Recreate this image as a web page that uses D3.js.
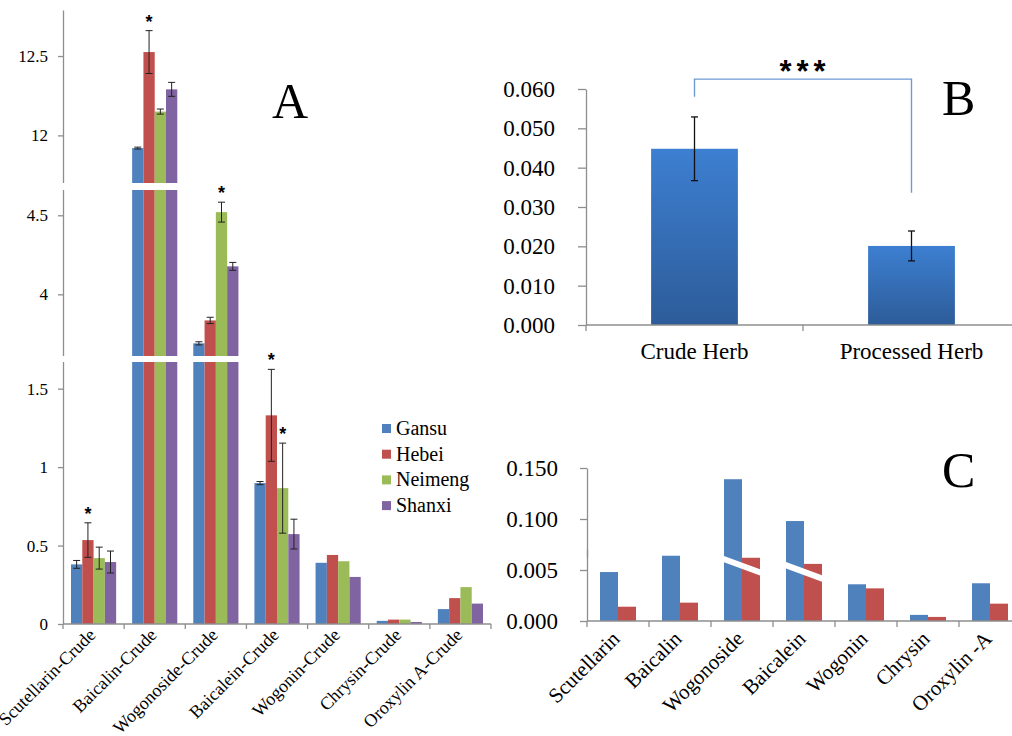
<!DOCTYPE html>
<html>
<head>
<meta charset="utf-8">
<script src="https://cdn.jsdelivr.net/npm/d3@7"></script>
<style>
  body { margin: 0; background: #fff; }
  svg { display: block; }
  text { font-family: "Liberation Serif", "Times New Roman", serif; fill: #000; }
</style>
</head>
<body>
<svg id="fig" width="1012" height="736"></svg>
<script>
// ---------- Panel A: content by production region ----------
const compoundsA = ["Scutellarin-Crude", "Baicalin-Crude", "Wogonoside-Crude", "Baicalein-Crude",
                    "Wogonin-Crude", "Chrysin-Crude", "Oroxylin A-Crude"];
const regions = ["Gansu", "Hebei", "Neimeng", "Shanxi"];
const regionColors = ["#4f81bd", "#c0504d", "#9bbb59", "#8064a2"];
const gansu   = [0.380, 11.920, 3.690, 0.898, 0.390, 0.020, 0.095];
const hebei   = [0.535, 12.525, 3.835, 1.330, 0.440, 0.028, 0.165];
const neimeng = [0.420, 12.150, 4.520, 0.866, 0.400, 0.028, 0.235];
const shanxi  = [0.395, 12.290, 4.177, 0.573, 0.300, 0.013, 0.130];
const gansuErr   = [0.025, 0.006, 0.010, 0.010, null, null, null];
const hebeiErr   = [0.110, 0.135, 0.020, 0.293, null, null, null];
const neimengErr = [0.070, 0.016, 0.063, 0.287, null, null, null];
const shanxiErr  = [0.070, 0.044, 0.025, 0.095, null, null, null];
// significance marks: [compound index, region index]
const starsA = [[0, 1], [1, 1], [2, 2], [3, 1], [3, 2]];
const tickValuesA = [0, 0.5, 1, 1.5, 4, 4.5, 12, 12.5];
const tickLabelsA = ["0", "0.5", "1", "1.5", "4", "4.5", "12", "12.5"];
// value ranges hidden by the broken axis
const breaksA = [[1.67, 3.61], [4.66, 11.70]];

// ---------- Panel B: crude vs processed herb ----------
const herbs = ["Crude Herb", "Processed Herb"];
const herbMeans = [0.0448, 0.0201];
const herbErr = [0.0081, 0.0038];
const tickValuesB = [0, 0.01, 0.02, 0.03, 0.04, 0.05, 0.06];
const bracketTopB = 0.0625;
const bracketFeetB = [0.0580, 0.0336];

// ---------- Panel C: per-compound comparison ----------
const compoundsC = ["Scutellarin", "Baicalin", "Wogonoside", "Baicalein", "Wogonin", "Chrysin", "Oroxylin -A"];
const crudeC     = [0.0048, 0.0064, 0.139, 0.098, 0.0036, 0.0006, 0.0037];
const processedC = [0.0014, 0.0018, 0.0062, 0.0056, 0.0032, 0.0004, 0.0017];
const colorsC = ["#4f81bd", "#c0504d"];
const tickLowC = [0, 0.005];
const tickHighC = [0.100, 0.150];

const svg = d3.select("#fig");
svg.append("rect").attr("width", 1012).attr("height", 736).attr("fill", "#fff");
const axisGrey = "#8e8e8e";

function styleAxis(g, size) {
  g.selectAll(".domain").attr("stroke", axisGrey).attr("stroke-width", 1.3);
  g.selectAll(".tick line").attr("stroke", axisGrey).attr("stroke-width", 1.3);
  g.selectAll(".tick text").attr("font-size", size)
    .attr("font-family", "'Liberation Serif', 'Times New Roman', serif").attr("fill", "#000");
}

function errorBar(g, x, yTop, yBot, half) {
  g.append("line").attr("x1", x).attr("x2", x).attr("y1", yTop).attr("y2", yBot);
  g.append("line").attr("x1", x - half).attr("x2", x + half).attr("y1", yTop).attr("y2", yTop);
  g.append("line").attr("x1", x - half).attr("x2", x + half).attr("y1", yBot).attr("y2", yBot);
}

// ===================== Panel A =====================
(function () {
  const seriesVals = [gansu, hebei, neimeng, shanxi];
  const seriesErr = [gansuErr, hebeiErr, neimengErr, shanxiErr];
  const xA = d3.scaleBand().domain(compoundsA).range([63, 491]);
  const xInner = d3.scaleBand().domain(regions).range([8, xA.bandwidth() - 8]);
  const yA = d3.scaleLinear()
    .domain([0, breaksA[0][0], breaksA[0][1], breaksA[1][0], breaksA[1][1], 12.79])
    .range([624, 362, 356, 190, 183, 10]);

  const g = svg.append("g");
  // bars
  regions.forEach((r, si) => {
    g.append("g").selectAll("rect").data(compoundsA).join("rect")
      .attr("x", c => xA(c) + xInner(r))
      .attr("width", xInner.bandwidth())
      .attr("y", (c, i) => yA(seriesVals[si][i]))
      .attr("height", (c, i) => yA(0) - yA(seriesVals[si][i]))
      .attr("fill", regionColors[si]);
  });

  // y axis
  const ax = g.append("g").attr("transform", "translate(63,0)")
    .call(d3.axisLeft(yA).tickValues(tickValuesA).tickSize(5).tickSizeOuter(0).tickPadding(10)
      .tickFormat((d, i) => tickLabelsA[i]));
  styleAxis(ax, 17);

  // x axis line with boundary ticks
  g.append("line").attr("x1", 63).attr("x2", 491).attr("y1", yA(0)).attr("y2", yA(0))
    .attr("stroke", axisGrey).attr("stroke-width", 1.3);
  const bounds = compoundsA.map(c => xA(c)).concat([xA.range()[1]]);
  g.append("g").selectAll("line").data(bounds).join("line")
    .attr("x1", d => d).attr("x2", d => d).attr("y1", yA(0)).attr("y2", yA(0) + 5)
    .attr("stroke", axisGrey).attr("stroke-width", 1.3);

  // axis breaks
  breaksA.forEach(b => {
    g.append("rect").attr("x", 50).attr("width", 450)
      .attr("y", yA(b[1])).attr("height", yA(b[0]) - yA(b[1])).attr("fill", "#fff");
  });

  // error bars
  const eg = g.append("g").attr("stroke", "#222").attr("stroke-width", 1);
  regions.forEach((r, si) => {
    compoundsA.forEach((c, i) => {
      const e = seriesErr[si][i];
      if (e == null) return;
      const cx = xA(c) + xInner(r) + xInner.bandwidth() / 2;
      const v = seriesVals[si][i];
      errorBar(eg, cx, yA(v + e), yA(v - e), 3.5);
    });
  });

  // significance stars
  g.append("g").selectAll("text").data(starsA).join("text")
    .attr("x", d => xA(compoundsA[d[0]]) + xInner(regions[d[1]]) + xInner.bandwidth() / 2)
    .attr("y", d => {
      const v = seriesVals[d[1]][d[0]], e = seriesErr[d[1]][d[0]];
      return yA(v + e) - 13 + 10;
    })
    .attr("text-anchor", "middle")
    .attr("font-weight", "bold").attr("font-size", 18)
    .style("font-family", "'Liberation Sans', Arial, sans-serif")
    .text("*");

  // category labels
  g.append("g").selectAll("text").data(compoundsA).join("text")
    .attr("transform", c => `translate(${xA(c) + xA.bandwidth() / 2 + 3},636) rotate(-45)`)
    .attr("text-anchor", "end").attr("font-size", 18)
    .text(c => c);

  // legend
  const lg = g.append("g").attr("transform", "translate(382,424)");
  regions.forEach((r, i) => {
    lg.append("rect").attr("x", 0).attr("y", i * 25.7).attr("width", 9).attr("height", 9)
      .attr("fill", regionColors[i]);
    lg.append("text").attr("x", 14).attr("y", i * 25.7 + 11).attr("font-size", 20).text(r);
  });

  g.append("text").attr("x", 272).attr("y", 118).attr("font-size", 50).text("A");
})();

// ===================== Panel B =====================
(function () {
  const g = svg.append("g");
  const yB = d3.scaleLinear().domain([0, 0.06]).range([325, 89]);
  const xB = d3.scaleBand().domain(herbs).range([586, 1020]);
  const barW = xB.bandwidth() * 0.4;

  const defs = svg.append("defs");
  const grad = defs.append("linearGradient").attr("id", "herbGrad")
    .attr("x1", 0).attr("y1", 0).attr("x2", 0).attr("y2", 1);
  grad.append("stop").attr("offset", "0%").attr("stop-color", "#3d7fd1");
  grad.append("stop").attr("offset", "100%").attr("stop-color", "#2d5c99");

  g.selectAll("rect.bar").data(herbs).join("rect").attr("class", "bar")
    .attr("x", h => xB(h) + (xB.bandwidth() - barW) / 2)
    .attr("width", barW)
    .attr("y", (h, i) => yB(herbMeans[i]))
    .attr("height", (h, i) => yB(0) - yB(herbMeans[i]))
    .attr("fill", "url(#herbGrad)");

  const ax = g.append("g").attr("transform", "translate(586,0)")
    .call(d3.axisLeft(yB).tickValues(tickValuesB).tickSize(8).tickSizeOuter(0).tickPadding(23)
      .tickFormat(d3.format(".3f")));
  styleAxis(ax, 23);
  g.append("line").attr("x1", 586).attr("x2", 586).attr("y1", yB(0)).attr("y2", yB(0) + 6)
    .attr("stroke", axisGrey).attr("stroke-width", 1.3);
  g.append("line").attr("x1", 586).attr("x2", 1012).attr("y1", yB(0)).attr("y2", yB(0))
    .attr("stroke", axisGrey).attr("stroke-width", 1.3);
  g.append("line").attr("x1", xB(herbs[1])).attr("x2", xB(herbs[1]))
    .attr("y1", yB(0)).attr("y2", yB(0) + 6)
    .attr("stroke", axisGrey).attr("stroke-width", 1.3);

  const eg = g.append("g").attr("stroke", "#111").attr("stroke-width", 1.3);
  herbs.forEach((h, i) => {
    const cx = xB(h) + xB.bandwidth() / 2;
    errorBar(eg, cx, yB(herbMeans[i] + herbErr[i]), yB(herbMeans[i] - herbErr[i]), 3.5);
  });

  g.selectAll("text.cat").data(herbs).join("text").attr("class", "cat")
    .attr("x", h => xB(h) + xB.bandwidth() / 2).attr("y", 359)
    .attr("text-anchor", "middle").attr("font-size", 23).text(h => h);

  // significance bracket
  const c0 = xB(herbs[0]) + xB.bandwidth() / 2, c1 = xB(herbs[1]) + xB.bandwidth() / 2;
  g.append("path")
    .attr("d", `M${c0},${yB(bracketFeetB[0])}V${yB(bracketTopB)}H${c1}V${yB(bracketFeetB[1])}`)
    .attr("fill", "none").attr("stroke", "#6d9bd4").attr("stroke-width", 1.4);
  g.append("text").attr("x", (c0 + c1) / 2 + 2).attr("y", yB(bracketTopB) - 14 + 17)
    .attr("text-anchor", "middle").attr("font-size", 31).attr("font-weight", "bold")
    .attr("letter-spacing", 5)
    .style("font-family", "'Liberation Sans', Arial, sans-serif")
    .text("***");

  g.append("text").attr("x", 942).attr("y", 115).attr("font-size", 50).text("B");
})();

// ===================== Panel C =====================
(function () {
  const g = svg.append("g");
  const xC = d3.scaleBand().domain(compoundsC).range([587, 1021]);
  const xInner = d3.scaleBand().domain(["crude", "processed"]).range([13, xC.bandwidth() - 13]);
  const yLow = d3.scaleLinear().domain([0, 0.00706]).range([621, 549]);
  const yHigh = d3.scaleLinear().domain([0.06275, 0.150]).range([557, 468]);
  const yOf = v => (v >= yHigh.domain()[0] ? yHigh(v) : yLow(v));

  [crudeC, processedC].forEach((vals, si) => {
    const key = xInner.domain()[si];
    g.append("g").selectAll("rect").data(compoundsC).join("rect")
      .attr("x", c => xC(c) + xInner(key))
      .attr("width", xInner.bandwidth())
      .attr("y", (c, i) => yOf(vals[i]))
      .attr("height", (c, i) => yLow(0) - yOf(vals[i]))
      .attr("fill", colorsC[si]);
  });

  // diagonal break marks on bars that exceed the lower range
  compoundsC.forEach((c, i) => {
    if (crudeC[i] < yHigh.domain()[0]) return;
    const x0 = xC(c) + xInner("crude") - 1;
    const x1 = xC(c) + xInner("processed") + xInner.bandwidth() + 1;
    const y0 = yLow(processedC[i]) + 1;
    g.append("line").attr("x1", x0).attr("x2", x1).attr("y1", y0).attr("y2", y0 + 14)
      .attr("stroke", "#fff").attr("stroke-width", 6);
  });

  const axL = g.append("g").attr("transform", "translate(587,0)")
    .call(d3.axisLeft(yLow).tickValues(tickLowC).tickSize(7).tickSizeOuter(0).tickPadding(22)
      .tickFormat(d3.format(".3f")));
  styleAxis(axL, 23);
  const axH = g.append("g").attr("transform", "translate(587,0)")
    .call(d3.axisLeft(yHigh).tickValues(tickHighC).tickSize(7).tickSizeOuter(0).tickPadding(22)
      .tickFormat(d3.format(".3f")));
  styleAxis(axH, 23);

  g.append("line").attr("x1", 587).attr("x2", 1012).attr("y1", yLow(0)).attr("y2", yLow(0))
    .attr("stroke", axisGrey).attr("stroke-width", 1.3);
  const bounds = compoundsC.map(c => xC(c));
  g.append("g").selectAll("line").data(bounds).join("line")
    .attr("x1", d => d).attr("x2", d => d).attr("y1", yLow(0)).attr("y2", yLow(0) + 6)
    .attr("stroke", axisGrey).attr("stroke-width", 1.3);

  g.append("g").selectAll("text").data(compoundsC).join("text")
    .attr("transform", c => `translate(${xC(c) + xC.bandwidth() / 2 + 3},640) rotate(-45)`)
    .attr("text-anchor", "end").attr("font-size", 21)
    .text(c => c);

  g.append("text").attr("x", 942).attr("y", 487).attr("font-size", 50).text("C");
})();
</script>
</body>
</html>
